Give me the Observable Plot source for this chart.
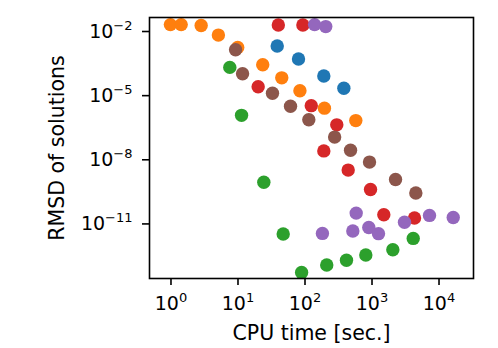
<!DOCTYPE html>
<html>
<head>
<meta charset="utf-8">
<script src="https://cdn.jsdelivr.net/npm/d3@7"></script>
<script src="https://cdn.jsdelivr.net/npm/@observablehq/plot@0.6"></script>
<style>
  html, body { margin: 0; padding: 0; background: #fff; }
  #chart { width: 498px; height: 348px; }
</style>
</head>
<body>
<div id="chart"></div>
<script>
// ---- data ----
const seriesNames = ["C0", "C1", "C2", "C3", "C4", "C5"];
const seriesColors = ["#1f77b4", "#ff7f0e", "#2ca02c", "#d62728", "#9467bd", "#8c564b"];

const c0Time = [38.5, 80, 191, 380];
const c0Rmsd = [2.1e-3, 5.2e-4, 8.3e-5, 2.2e-5];

const c1Time = [0.98, 1.42, 2.82, 5.1, 9.9, 23.4, 45, 84, 195, 573];
const c1Rmsd = [2.1e-2, 2.1e-2, 1.9e-2, 6.8e-3, 1.8e-3, 2.8e-4, 6.8e-5, 1.7e-5, 2.6e-6, 6.8e-7];

const c2Time = [7.55, 11.3, 24.3, 47.3, 89, 211, 416, 808, 2045, 4120];
const c2Rmsd = [2.1e-4, 1.2e-6, 8.9e-10, 3.4e-12, 5.4e-14, 1.2e-13, 2.0e-13, 3.5e-13, 6.2e-13, 2.1e-12];

const c3Time = [40, 93, 20, 124, 298, 191, 441, 950, 1500, 4310];
const c3Rmsd = [2.0e-2, 2.0e-2, 2.6e-5, 3.4e-6, 4.3e-7, 2.6e-8, 3.3e-9, 4.1e-10, 2.7e-11, 1.9e-11];

const c4Time = [139, 204, 581, 182, 517, 896, 1250, 3055, 7210, 16300];
const c4Rmsd = [2.1e-2, 1.7e-2, 3.2e-11, 3.6e-12, 4.7e-12, 6.8e-12, 3.5e-12, 1.2e-11, 2.5e-11, 2.0e-11];

const c5Time = [9.2, 11.7, 32.7, 60.8, 114, 277, 478, 918, 2244, 4510];
const c5Rmsd = [1.4e-3, 1.05e-4, 1.3e-5, 3.2e-6, 7.4e-7, 1.15e-7, 2.8e-8, 7.8e-9, 1.2e-9, 2.8e-10];

const xTicks = [1, 10, 100, 1000, 10000];
const yTicks = [1e-2, 1e-5, 1e-8, 1e-11];
const xLabel = "CPU time [sec.]";
const yLabel = "RMSD of solutions";

// ---- table ----
const times = [c0Time, c1Time, c2Time, c3Time, c4Time, c5Time];
const rmsds = [c0Rmsd, c1Rmsd, c2Rmsd, c3Rmsd, c4Rmsd, c5Rmsd];
const rows = [];
seriesNames.forEach((s, i) => {
  times[i].forEach((t, j) => rows.push({series: s, time: t, rmsd: rmsds[i][j]}));
});

const fmt = d => "10^" + Math.round(Math.log10(d));

const plot = Plot.plot({
  width: 498,
  height: 348,
  marginLeft: 149,
  marginRight: 25,
  marginTop: 17,
  marginBottom: 70,
  style: {fontFamily: "DejaVu Sans", fontSize: "19px", color: "#000", background: "#fff"},
  x: {type: "log", domain: [0.478, 32700]},
  y: {type: "log", domain: [2.8e-14, 0.0452]},
  color: {domain: seriesNames, range: seriesColors},
  marks: [
    Plot.dot(rows, {x: "time", y: "rmsd", fill: "series", r: 6.7, fillOpacity: 1}),
    Plot.frame({stroke: "#000", strokeWidth: 1.6}),
    Plot.axisX({ticks: xTicks, tickFormat: fmt, tickSize: 7, tickPadding: 11, strokeWidth: 1.6, label: null, fontSize: 19}),
    Plot.axisY({ticks: yTicks, tickFormat: fmt, tickSize: 7, tickPadding: 10, strokeWidth: 1.6, label: null, fontSize: 19}),
    Plot.text([xLabel], {frameAnchor: "bottom", dy: 55, text: d => d, fontSize: 20.5, lineAnchor: "middle", textAnchor: "middle"}),
    Plot.text([yLabel], {frameAnchor: "left", dx: -92, rotate: -90, text: d => d, fontSize: 20.5, lineAnchor: "middle", textAnchor: "middle"})
  ]
});

// superscript exponents in tick labels
plot.querySelectorAll('g[aria-label$="tick label"] text').forEach(t => {
  const m = /^10\^(-?\d+)$/.exec(t.textContent);
  if (!m) return;
  t.textContent = "10";
  const ts = document.createElementNS("http://www.w3.org/2000/svg", "tspan");
  ts.setAttribute("font-size", "13px");
  ts.setAttribute("dy", "-8px");
  ts.textContent = m[1].replace("-", "\u2212");
  t.appendChild(ts);
});

document.getElementById("chart").appendChild(plot);
</script>
</body>
</html>
